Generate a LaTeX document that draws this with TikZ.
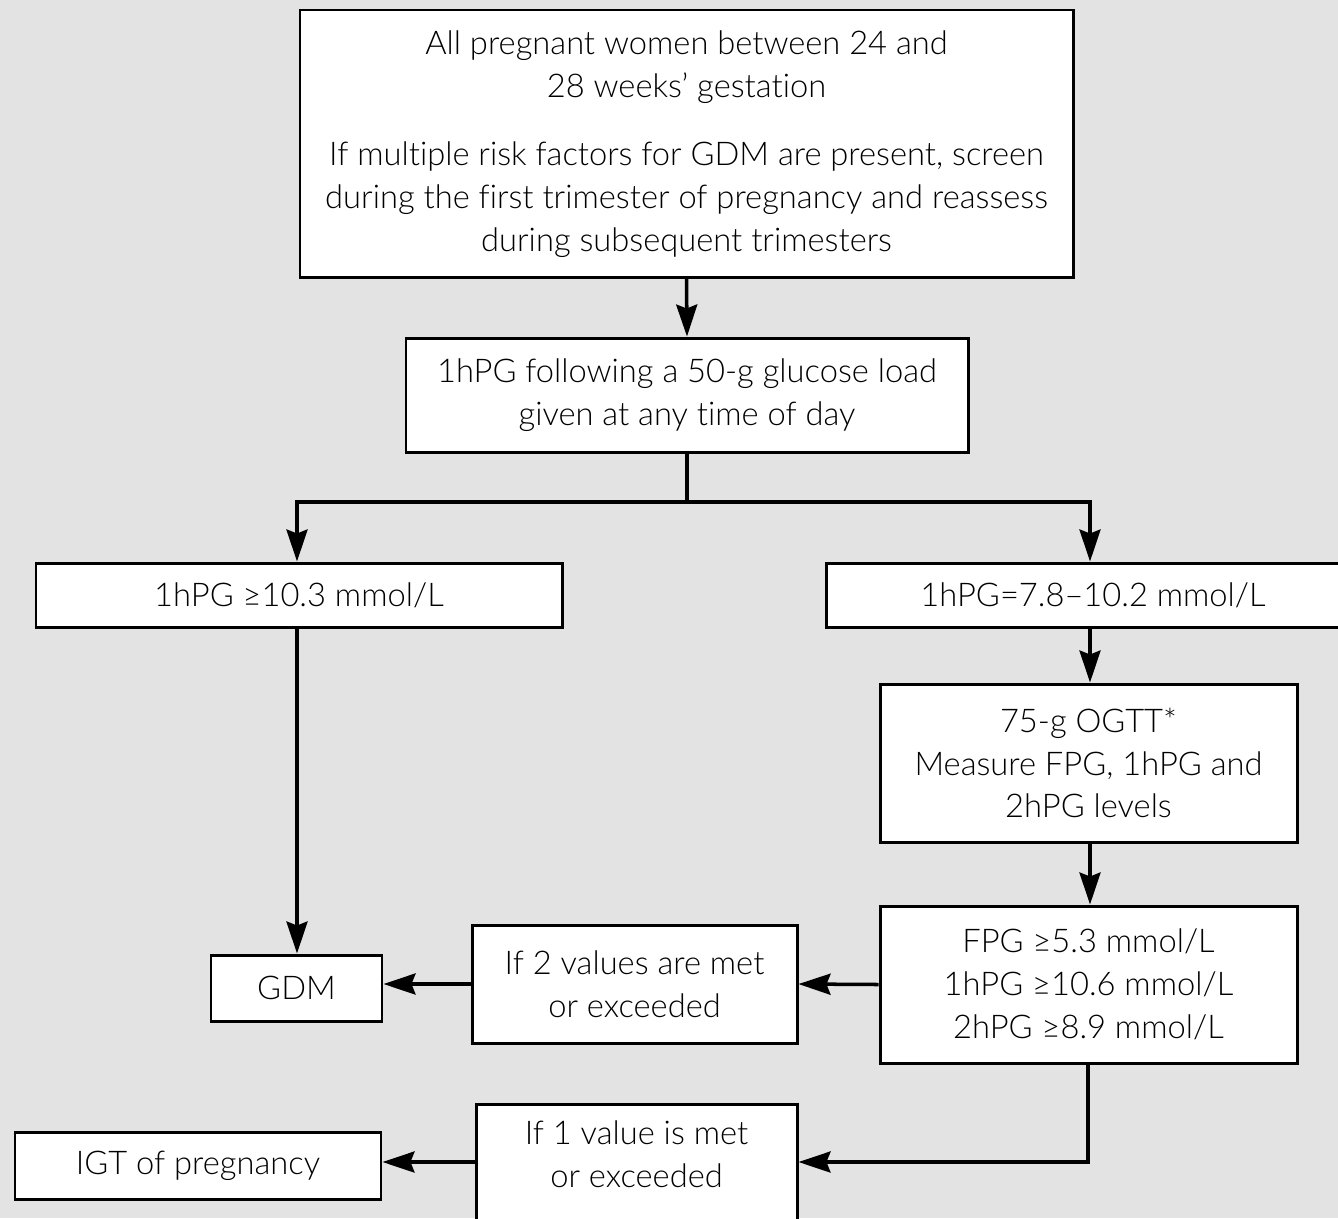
\documentclass[tikz,border=0pt]{standalone}
\usepackage{fontspec}
\setmainfont{Lato}[UprightFont={* Light}, Ligatures=CommonOff]
\usepackage{xcolor}
\usetikzlibrary{positioning}
\usetikzlibrary{arrows, arrows.meta}

\definecolor{bggray}{RGB}{227,227,227}
\tikzset{
  box/.style={draw, fill=white, line width=1.7pt, align=center, inner sep=0pt,
    font=\fontsize{18.6}{24.4}\selectfont},
  flow/.style={line width=2pt},
  arr/.style={flow, -{Stealth[length=0.64cm, width=0.42cm, inset=0.08cm]}}
}

\begin{document}
\begin{tikzpicture}[x=0.02cm, y=-0.02cm]
  \useasboundingbox (0,0) rectangle (1338,1218);
  \fill[bggray] (0,0) rectangle (1338,1218);
  \clip (0,0) rectangle (1338,1218);

  \node[box, minimum width=773*0.02cm, minimum height=267*0.02cm, text depth=0.1cm] (all) at (686.5,143.5)
    {All pregnant women between 24 and\\28 weeks’ gestation\\[0.5cm]
     If multiple risk factors for GDM are present, screen\\during the first trimester of pregnancy and reassess\\during subsequent trimesters};
  \node[box, minimum width=562*0.02cm, minimum height=114*0.02cm] (load) at (687,395)
    {1hPG following a 50-g glucose load\\given at any time of day};
  \node[box, minimum width=526*0.02cm, minimum height=64*0.02cm] (high) at (299,595)
    {1hPG ≥10.3 mmol/L};
  \node[box, minimum width=534*0.02cm, minimum height=64*0.02cm] (mid) at (1093,595)
    {1hPG=7.8–10.2 mmol/L};
  \node[box, minimum width=417*0.02cm, minimum height=158*0.02cm] (ogtt) at (1088.5,763)
    {75-g OGTT*\\Measure FPG, 1hPG and\\2hPG levels};
  \node[box, minimum width=417*0.02cm, minimum height=157*0.02cm] (cut) at (1088.5,984.5)
    {FPG ≥5.3 mmol/L\\1hPG ≥10.6 mmol/L\\2hPG ≥8.9 mmol/L};
  \node[box, minimum width=325*0.02cm, minimum height=118*0.02cm] (two) at (634.5,984)
    {If 2 values are met\\or exceeded};
  \node[box, minimum width=171*0.02cm, minimum height=66*0.02cm] (gdm) at (296.5,988)
    {GDM};
  \node[box, minimum width=321*0.02cm, minimum height=130*0.02cm, text depth=0.6cm] (one) at (636.5,1169)
    {If 1 value is met\\or exceeded};
  \node[box, minimum width=366*0.02cm, minimum height=67*0.02cm] (igt) at (198,1165.5)
    {IGT of pregnancy};

  \coordinate (jL) at (297,502);
  \coordinate (jR) at (1090,502);
  \coordinate (kR) at (1088,1162);

  \draw[arr] (all.south) -- (load.north);
  \draw[flow] (load.south) -- (load.south |- jL);
  \draw[arr] (load.south |- jL) -- (jL) -- (jL |- high.north);
  \draw[arr] (load.south |- jR) -- (jR) -- (jR |- mid.north);
  \draw[arr] (jR |- mid.south) -- (jR |- ogtt.north);
  \draw[arr] (jR |- ogtt.south) -- (jR |- cut.north);
  \draw[arr] (jL |- high.south) -- (jL |- gdm.north);
  \draw[arr] (cut.west) -- (two.east);
  \draw[arr] (two.west) -- (two.west -| gdm.east);
  \draw[arr] (kR |- cut.south) -- (kR) -- (kR -| one.east);
  \draw[arr] (kR -| one.west) -- (kR -| igt.east);
\end{tikzpicture}
\end{document}
